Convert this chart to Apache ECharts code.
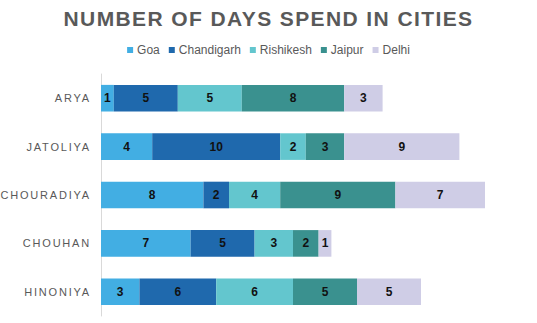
<!DOCTYPE html>
<html><head><meta charset="utf-8">
<script src="https://cdn.jsdelivr.net/npm/echarts@6/dist/echarts.min.js"></script>
<style>html,body{margin:0;padding:0;background:#fff}#c{width:537px;height:323px}</style>
</head><body><div id="c"></div>
<script>
const categories = ['ARYA', 'JATOLIYA', 'CHOURADIYA', 'CHOUHAN', 'HINONIYA'];
const seriesNames = ['Goa', 'Chandigarh', 'Rishikesh', 'Jaipur', 'Delhi'];
const goa = [1, 4, 8, 7, 3];
const chandigarh = [5, 10, 2, 5, 6];
const rishikesh = [5, 2, 4, 3, 6];
const jaipur = [8, 3, 9, 2, 5];
const delhi = [3, 9, 7, 1, 5];
const colors = ['#42AEE3', '#1F69AD', '#63C6CE', '#3A918F', '#CFCDE6'];
const titleText = 'NUMBER OF DAYS SPEND IN CITIES';

const values = [goa, chandigarh, rishikesh, jaipur, delhi];
const chart = echarts.init(document.getElementById('c'), null, {renderer: 'svg'});
chart.setOption({
  animation: false,
  title: {
    text: titleText,
    left: 'center', top: 3,
    textStyle: {fontFamily: 'Liberation Sans', fontSize: 21, fontWeight: 'bold', color: '#595959'}
  },
  legend: {
    top: 39, left: 'center',
    itemWidth: 6, itemHeight: 6, itemGap: 9,
    icon: 'rect',
    textStyle: {fontFamily: 'Liberation Sans', fontSize: 12, color: '#595959', padding: [0, 0, 0, -1]},
    data: seriesNames
  },
  grid: {left: 101, top: 74, width: 33 * 12.8, height: 242, containLabel: false},
  xAxis: {type: 'value', min: 0, max: 33, show: false},
  yAxis: {
    type: 'category', inverse: true, data: categories,
    axisLine: {show: true, lineStyle: {color: '#D9D9D9', width: 1}},
    axisTick: {show: false},
    axisLabel: {fontFamily: 'Liberation Sans', fontSize: 11, color: '#595959', margin: 10}
  },
  series: seriesNames.map((n, i) => ({
    name: n, type: 'bar', stack: 'total',
    data: values[i],
    barCategoryGap: '45%',
    itemStyle: {color: colors[i]},
    label: {show: true, position: 'inside', fontFamily: 'Liberation Sans', fontSize: 12, fontWeight: 'bold', color: '#111'}
  }))
});
// widen letter spacing of title and category labels (as in the reference)
document.querySelectorAll('#c text').forEach(t => {
  const s = t.textContent;
  if (s === titleText) t.style.letterSpacing = '1.4px';
  else if (categories.includes(s)) t.style.letterSpacing = '1.8px';
});
</script></body></html>
